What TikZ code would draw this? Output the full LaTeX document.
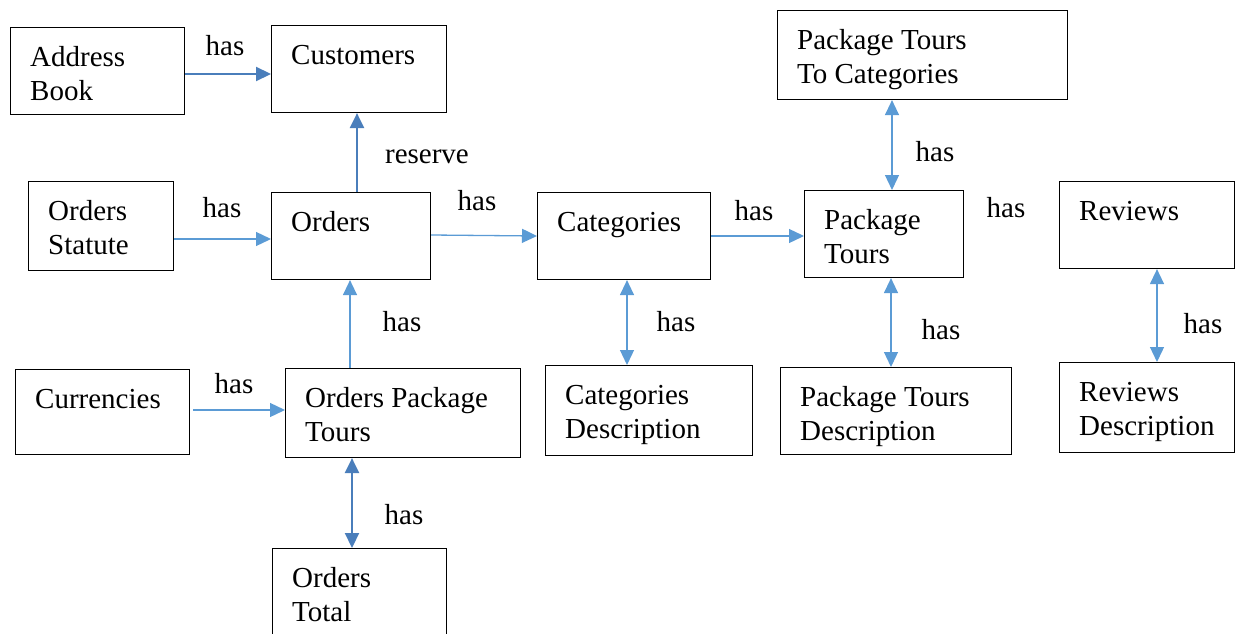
\documentclass[tikz,border=0pt]{standalone}
\usepackage{fontspec}
\setmainfont{Liberation Serif}
\usetikzlibrary{arrows.meta}
\definecolor{lightblue}{HTML}{5B9BD5}
\definecolor{darkblue}{HTML}{4A7EBB}
\tikzset{
  box/.style={draw=black, line width=1.1pt, rectangle, inner sep=0pt, anchor=north west},
  txt/.style={anchor=base west, inner sep=0pt, font=\fontsize{29}{34}\selectfont},
  lbl/.style={anchor=base, inner sep=0pt, font=\fontsize{29}{34}\selectfont},
  lightarr/.style={draw=lightblue, line width=1.3pt, -{Triangle[length=15pt,width=14pt]}},
  lightboth/.style={draw=lightblue, line width=1.3pt, {Triangle[length=15pt,width=14pt]}-{Triangle[length=15pt,width=14pt]}},
  darkarr/.style={draw=darkblue, line width=2.2pt, -{Triangle[length=15pt,width=14pt]}},
  darkboth/.style={draw=darkblue, line width=2.2pt, {Triangle[length=15pt,width=14pt]}-{Triangle[length=15pt,width=14pt]}},
}
\newcommand{\bx}[6]{% name, x1, y1, x2, y2, one text line
  \node[box, minimum width={(#4-#2)*1pt}, minimum height={(#5-#3)*1pt}] (#1) at (#2,#3) {};
  \node[txt] (#1t) at (#2+20,#3+39) {#6};
}
\newcommand{\bxx}[6]{% name, x1, y1, x2, y2, two text lines
  \node[box, minimum width={(#4-#2)*1pt}, minimum height={(#5-#3)*1pt}] (#1) at (#2,#3) {};
  \node[txt, align=left] (#1t) at (#2+20,#3+73) {#6};
}
\begin{document}
\begin{tikzpicture}[x=1pt,y=-1pt]
\useasboundingbox (0,0) rectangle (1250,634);
\clip (0,0) rectangle (1250,634);
% boxes
\bxx{addr}{10}{27}{184}{114}{Address\\Book}
\bx{cust}{271}{25}{446}{112}{Customers}
\bxx{ostat}{28}{181}{173}{270}{Orders\\Statute}
\bx{ord}{271}{192}{430}{279}{Orders}
\bx{cat}{537}{192}{710}{279}{Categories}
\bxx{pttc}{777}{10}{1067}{99}{Package Tours\\To Categories}
\bxx{pt}{804}{190}{963}{277}{Package\\Tours}
\bx{rev}{1059}{181}{1234}{268}{Reviews}
\bx{cur}{15}{369}{189}{454}{Currencies}
\bxx{opt}{285}{368}{520}{457}{Orders Package\\Tours}
\bxx{catd}{545}{365}{752}{455}{Categories\\Description}
\bxx{ptd}{780}{367}{1011}{454}{Package Tours\\Description}
\bxx{revd}{1059}{362}{1234}{452}{Reviews\\Description}
\bxx{otot}{272}{548}{446}{660}{Orders\\Total}
% connectors
\draw[darkarr] (addr.east |- 0,74) -- (cust.west |- 0,74);
\draw[darkarr] (ord.north -| 357,0) -- (cust.south -| 357,0);
\draw[lightarr] (ostat.east |- 0,239) -- (ord.west |- 0,239);
\draw[lightarr] (ord.east |- 0,235) -- (cat.west |- 0,236);
\draw[lightarr] (cat.east |- 0,236) -- (pt.west |- 0,236);
\draw[lightboth] (pttc.south -| 892,0) -- (pt.north -| 892,0);
\draw[lightboth] (pt.south -| 891,0) -- (ptd.north -| 891,0);
\draw[lightboth] (cat.south -| 627,0) -- (catd.north -| 627,0);
\draw[lightboth] (rev.south -| 1157,0) -- (revd.north -| 1157,0);
\draw[lightarr] (opt.north -| 350,0) -- (ord.south -| 350,0);
\coordinate (curout) at (193,410);
\draw[lightarr] (curout) -- (opt.west |- curout);
\draw[darkboth] (opt.south -| 352,0) -- (otot.north -| 352,0);
% labels
\node[lbl] (l1) at (225,56) {has};
\node[lbl] (l2) at (427,163) {reserve};
\node[lbl] (l3) at (222,217) {has};
\node[lbl] (l4) at (477,210) {has};
\node[lbl] (l5) at (754,220) {has};
\node[lbl] (l6) at (935,161) {has};
\node[lbl] (l7) at (1006,217) {has};
\node[lbl] (l8) at (941,339) {has};
\node[lbl] (l9) at (676,331) {has};
\node[lbl] (l10) at (1203,333) {has};
\node[lbl] (l11) at (402,331) {has};
\node[lbl] (l12) at (234,393) {has};
\node[lbl] (l13) at (404,524) {has};
\end{tikzpicture}
\end{document}
